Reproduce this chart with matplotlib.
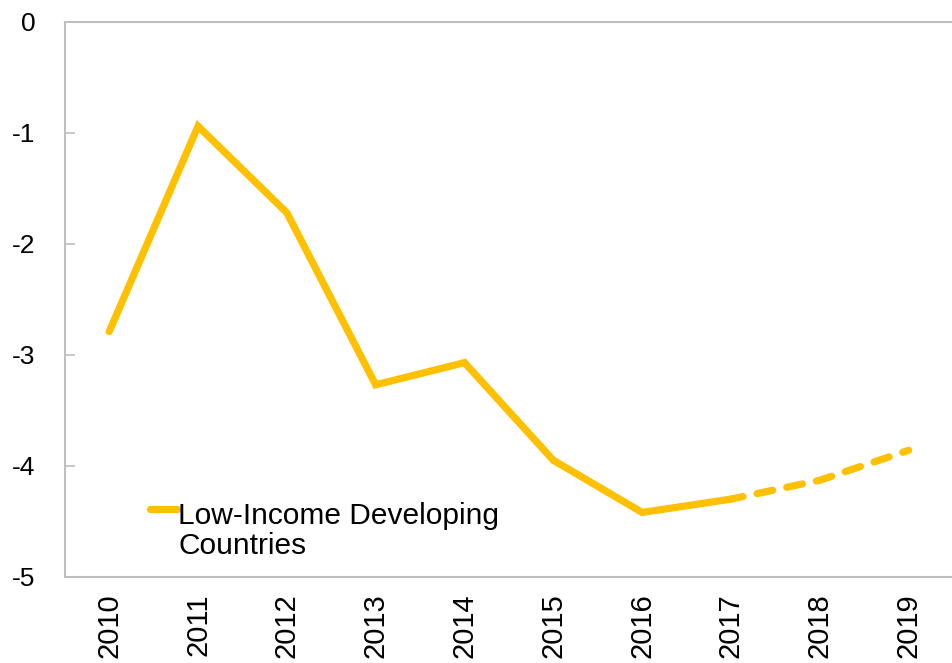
import matplotlib
matplotlib.use("Agg")
import matplotlib.pyplot as plt
from matplotlib.legend_handler import HandlerLine2D

years = ["2010", "2011", "2012", "2013", "2014", "2015", "2016", "2017", "2018", "2019"]
values = [-2.79, -0.94, -1.72, -3.27, -3.07, -3.95, -4.42, -4.30, -4.13, -3.86]
proj_start = 7  # index of 2017: projection (dashed) starts here
series_label = "Low-Income Developing\nCountries"
color = "#FFC000"

plt.rcParams['font.family'] = ['Liberation Sans', 'DejaVu Sans']


class TopAlignedLine(HandlerLine2D):
    """Place the legend handle level with the first line of a two-line label."""
    def __init__(self, shift, **kw):
        super().__init__(**kw)
        self.shift = shift

    def create_artists(self, legend, orig_handle, xdescent, ydescent, width,
                       height, fontsize, trans):
        arts = super().create_artists(legend, orig_handle, xdescent, ydescent,
                                      width, height, fontsize, trans)
        for a in arts:
            yd = a.get_ydata()
            a.set_ydata([y + self.shift for y in yd])
        return arts


fig = plt.figure(figsize=(9.53, 6.63), dpi=100)
ax = fig.add_axes([0.068, 0.130, 0.932, 0.837])

x = list(range(len(years)))
line, = ax.plot(x[:proj_start + 1], values[:proj_start + 1], color=color, lw=5.2,
                solid_capstyle='round', solid_joinstyle='miter', label=series_label)
ax.plot(x[proj_start:], values[proj_start:], color=color, lw=5.2,
        linestyle=(0.5, (2.2, 2.0)), dash_capstyle='round')

ax.set_xlim(-0.5, 9.5)
ax.set_ylim(-5, 0)
ax.set_yticks([0, -1, -2, -3, -4, -5])
ax.set_yticklabels(["0", "-1", "-2", "-3", "-4", "-5"])
ax.set_xticks(x)
ax.set_xticklabels(years, rotation=90)

for s in ["left", "bottom", "top"]:
    ax.spines[s].set_color("#BFBFBF")
    ax.spines[s].set_linewidth(1.5)
ax.spines["right"].set_visible(False)

ax.tick_params(axis='y', direction='in', length=7, width=1.2, color="#BFBFBF",
               labelsize=19, pad=21)
ax.tick_params(axis='x', length=0, labelsize=21, pad=12)

fs = 21.5
leg = ax.legend(handles=[line], loc='lower left', bbox_to_anchor=(0.096, 0.03),
                frameon=False, fontsize=fs, handlelength=0.9, handletextpad=0.05,
                borderaxespad=0, borderpad=0,
                handler_map={line: TopAlignedLine(shift=0.76 * fs)})
for t in leg.get_texts():
    t.set_linespacing(1.08)

fig.savefig("out.png", dpi=100)
